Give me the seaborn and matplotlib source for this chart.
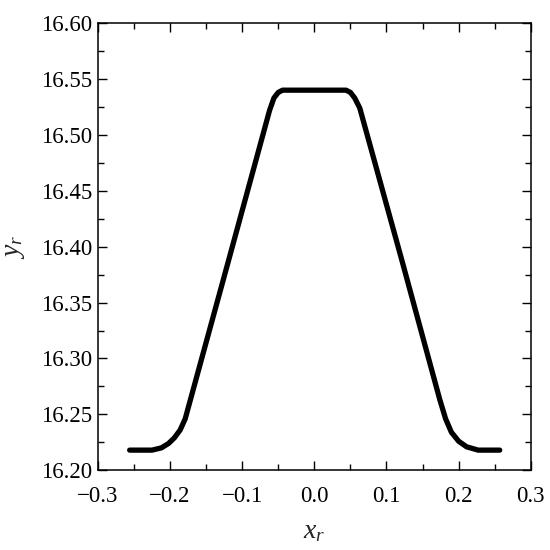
import numpy as np
import pandas as pd
import matplotlib.pyplot as plt
import seaborn as sns
from matplotlib.ticker import MultipleLocator

# profile
x_r = [-0.256, -0.240, -0.225, -0.212, -0.202, -0.194, -0.186, -0.179,
       -0.120, -0.062, -0.056, -0.050, -0.044, 0.000, 0.044, 0.050, 0.056,
       0.063, 0.120, 0.174, 0.182, 0.190, 0.200, 0.211, 0.227, 0.240, 0.257]
y_r = [16.218, 16.218, 16.218, 16.220, 16.224, 16.229, 16.236, 16.246,
       16.385, 16.522, 16.533, 16.538, 16.540, 16.540, 16.540, 16.538, 16.533,
       16.524, 16.391, 16.263, 16.246, 16.234, 16.226, 16.221, 16.218, 16.218, 16.218]

x_ticks = [-0.3, -0.2, -0.1, 0.0, 0.1, 0.2, 0.3]
x_ticklabels = ["\u22120.3", "\u22120.2", "\u22120.1", "0.0", "0.1", "0.2", "0.3"]
y_ticks = [16.20, 16.25, 16.30, 16.35, 16.40, 16.45, 16.50, 16.55, 16.60]

df = pd.DataFrame({"x": x_r, "y": y_r})

sns.set_style("ticks")
plt.rcParams['font.family'] = ['Liberation Serif', 'DejaVu Serif']
plt.rcParams['mathtext.fontset'] = 'custom'
plt.rcParams['mathtext.rm'] = 'Liberation Serif'
plt.rcParams['mathtext.it'] = 'Liberation Serif:italic'

fig, ax = plt.subplots(figsize=(5.5, 5.5), dpi=100)
fig.subplots_adjust(left=0.178, right=0.965, bottom=0.145, top=0.958)

sns.lineplot(ax=ax, data=df, x="x", y="y", sort=False, color="black",
             linewidth=3.8, solid_joinstyle="round", solid_capstyle="round")

ax.set_xlim(-0.3, 0.3)
ax.set_ylim(16.20, 16.60)
ax.set_xticks(x_ticks)
ax.set_xticklabels(x_ticklabels)
ax.set_yticks(y_ticks)
ax.set_yticklabels(["%.2f" % v for v in y_ticks])
ax.xaxis.set_minor_locator(MultipleLocator(0.05))
ax.yaxis.set_minor_locator(MultipleLocator(0.025))
ax.tick_params(which="both", direction="in", top=True, right=True,
               width=1.0, colors="black", labelsize=16.5)
ax.tick_params(which="major", length=6.5)
ax.tick_params(which="minor", length=4)
ax.tick_params(axis="x", pad=11)
ax.tick_params(axis="y", pad=4)
for s in ax.spines.values():
    s.set_linewidth(1.1)
    s.set_color("black")

ax.set_xlabel("$x_r$", fontsize=20, labelpad=9)
ax.set_ylabel("$y_r$", fontsize=20, labelpad=10)

fig.savefig("out.png", dpi=100, facecolor="white")
